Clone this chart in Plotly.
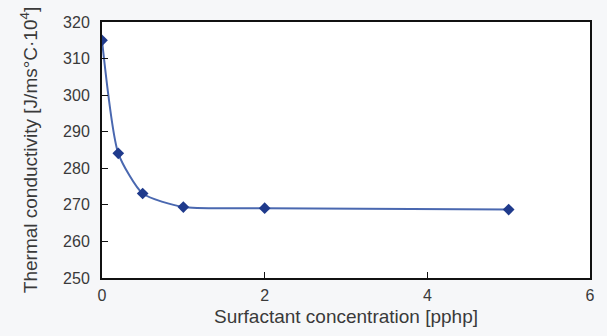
import plotly.graph_objects as go

concentration = [0, 0.2, 0.5, 1, 2, 5]
conductivity = [315.0, 284.1, 273.1, 269.4, 269.1, 268.7]

x_ticks = [0, 2, 4, 6]
y_ticks = [250, 260, 270, 280, 290, 300, 310, 320]

font_family = "Liberation Sans, Arial, sans-serif"
text_color = "#3a3a3a"

fig = go.Figure()
fig.add_trace(go.Scatter(
    x=concentration, y=conductivity,
    mode="lines+markers",
    line=dict(color="#4a68b0", width=2, shape="spline", smoothing=0.6),
    marker=dict(symbol="diamond", size=9, color="#1f3a8c"),
    showlegend=False,
))

fig.update_layout(
    width=607, height=336,
    margin=dict(l=102, r=15, t=22, b=55),
    paper_bgcolor="#f6f7f9",
    plot_bgcolor="#ffffff",
    font=dict(family=font_family, size=16, color=text_color),
)
fig.update_xaxes(
    range=[0, 6], tickvals=x_ticks, ticktext=[str(v) for v in x_ticks],
    showgrid=False, zeroline=False,
    showline=True, linecolor="#111111", linewidth=2, mirror=True,
    ticks="inside", ticklen=6, tickcolor="#111111", tickwidth=1,
    ticklabelstandoff=2,
    title=dict(text="Surfactant concentration [pphp]", standoff=6,
               font=dict(size=19)),
)
fig.update_yaxes(
    range=[250, 320], tickvals=y_ticks, ticktext=[str(v) for v in y_ticks],
    showgrid=False, zeroline=False,
    showline=True, linecolor="#111111", linewidth=2, mirror=True,
    ticks="inside", ticklen=6, tickcolor="#111111", tickwidth=1,
    ticklabelstandoff=7,
    title=dict(text="Thermal conductivity [J/ms°C·10<sup>4</sup>]", standoff=20,
               font=dict(size=19)),
)

fig.write_html("out.html")
